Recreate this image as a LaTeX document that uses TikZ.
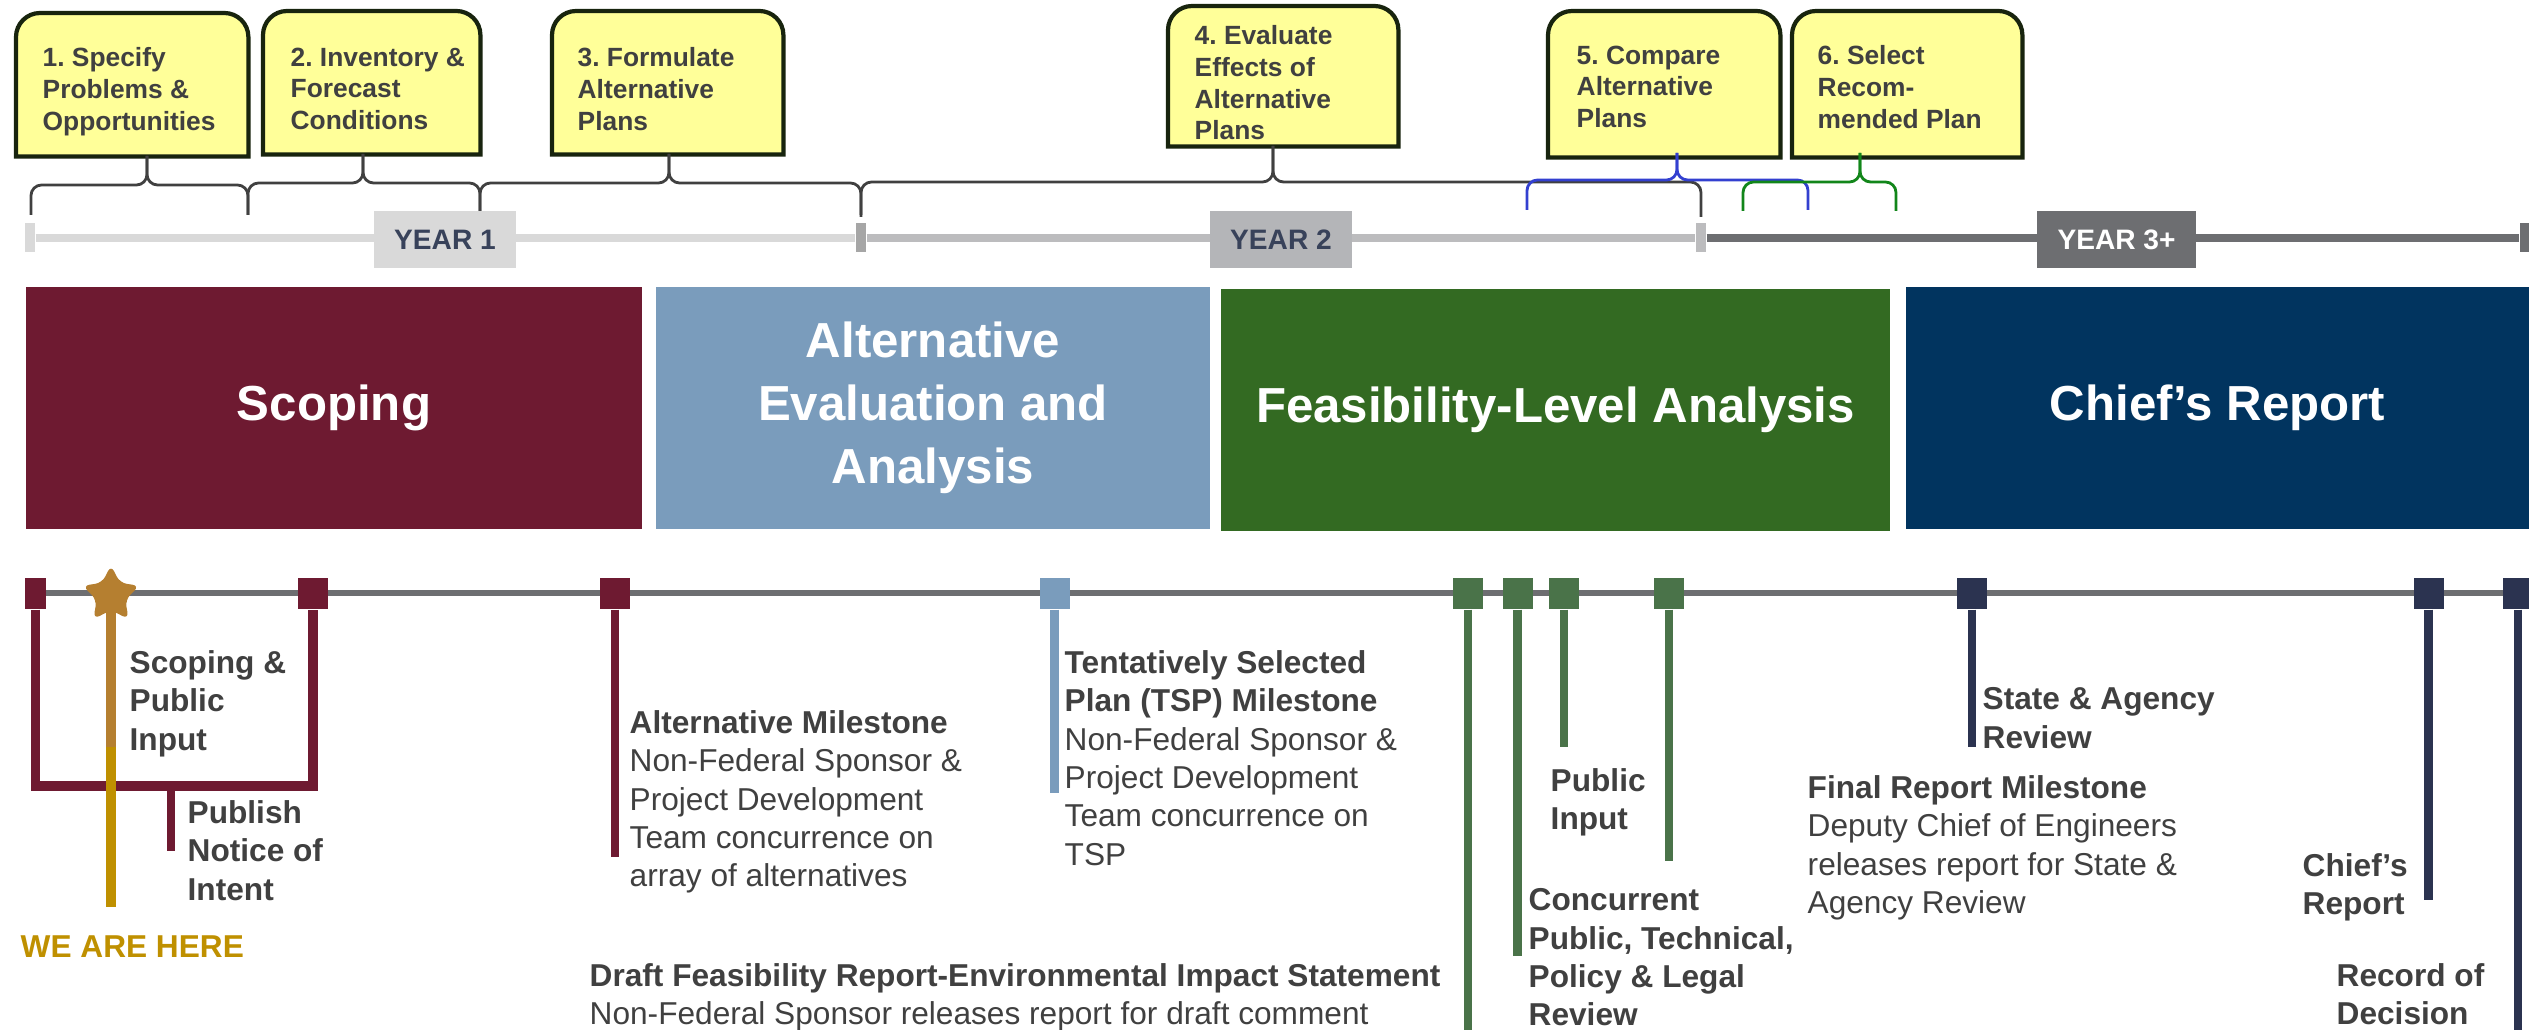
\documentclass[tikz,border=0pt]{standalone}
\usepackage{fontspec}
\setmainfont{Liberation Sans}
\frenchspacing
\usetikzlibrary{positioning,shapes.geometric}
\definecolor{fsyellow}{HTML}{FFFF99}
\definecolor{fsframe}{HTML}{18240E}
\definecolor{fsink}{HTML}{404040}
\definecolor{fsblue}{HTML}{3340D0}
\definecolor{fsleaf}{HTML}{12861A}
\definecolor{fsyearA}{HTML}{D9D9D9}
\definecolor{fsyearB}{HTML}{BCBCBE}
\definecolor{fsyearBtag}{HTML}{B4B5B8}
\definecolor{fsyearC}{HTML}{6D6E71}
\definecolor{fsyeartxt}{HTML}{38425A}
\definecolor{fsmaroon}{HTML}{6E1A31}
\definecolor{fssteel}{HTML}{7A9CBC}
\definecolor{fsforest}{HTML}{336A22}
\definecolor{fsnavy}{HTML}{01345F}
\definecolor{fsmoss}{HTML}{4A7349}
\definecolor{fsslate}{HTML}{2B3350}
\definecolor{fsochre}{HTML}{B57F30}
\definecolor{fsgold}{HTML}{BF9000}
\definecolor{fsrail}{HTML}{6D6E71}

\tikzset{
  stepcard/.style={anchor=north west,inner sep=0pt,minimum width=2.3cm,minimum height=1.42cm},
  stepline/.style={draw=fsframe,fill=fsyellow,line width=1.2pt},
  steptext/.style={anchor=north west,inner sep=0pt,align=left,text=fsink,
    font=\fontsize{7.5pt}{9pt}\selectfont\bfseries},
  bracepath/.style={line width=0.8pt,rounded corners=3pt},
  yearbar/.style={line width=2.3pt},
  yeartick/.style={minimum width=1mm,minimum height=2.9mm,inner sep=0pt},
  yearlbl/.style={minimum width=1.42cm,minimum height=5.7mm,inner sep=0pt,
    font=\fontsize{8pt}{9pt}\selectfont\bfseries},
  phasebar/.style={minimum height=2.42cm,inner sep=0pt,text=white,align=center,
    font=\fontsize{14pt}{18pt}\selectfont\bfseries},
  msquare/.style={fill=#1,minimum width=3mm,minimum height=3.1mm,inner sep=0pt},
  stemline/.style={draw=#1,line width=2.4pt},
  lbl/.style={anchor=north west,inner sep=0pt,align=left,text=fsink,
    font=\fontsize{9pt}{10.9pt}\selectfont},
  lblb/.style={lbl,font=\fontsize{9pt}{10.9pt}\selectfont\bfseries},
}

% yellow step card, rounded on top only
\newcommand{\stepframe}[1]{%
  \filldraw[stepline] (#1.south west) -- ([yshift=-2.4mm]#1.north west)
    arc[start angle=180,end angle=90,radius=2.4mm] -- ([xshift=-2.4mm]#1.north east)
    arc[start angle=90,end angle=0,radius=2.4mm] -- (#1.south east) -- cycle;}

\begin{document}
\begin{tikzpicture}[x=0.1mm,y=-0.1mm]
\useasboundingbox (0,0) rectangle (2529,1030);

% six planning steps
\node[stepcard,minimum width=2.31cm] (s1) at (16,13) {};
\node[stepcard,minimum width=2.16cm] (s2) at (263,11) {};
\node[stepcard] (s3) at (552,11) {};
\node[stepcard,minimum width=2.29cm,minimum height=1.39cm] (s4) at (1168,6) {};
\node[stepcard,minimum width=2.31cm,minimum height=1.45cm] (s5) at (1548,11) {};
\node[stepcard,minimum width=2.29cm,minimum height=1.45cm] (s6) at (1792,11) {};
\foreach \s in {s1,s2,s3,s4,s5,s6} {\stepframe{\s}}
\node[steptext,below right=3.4mm and 2.6mm of s1.north west] (s1t) {1. Specify\\Problems \&\\Opportunities};
\node[steptext,below right=3.6mm and 2.7mm of s2.north west] (s2t) {2. Inventory \&\\Forecast\\Conditions};
\node[steptext,below right=3.6mm and 2.5mm of s3.north west] (s3t) {3. Formulate\\Alternative\\Plans};
\node[steptext,below right=1.9mm and 2.6mm of s4.north west] (s4t) {4. Evaluate\\Effects of\\Alternative\\Plans};
\node[steptext,below right=3.4mm and 2.8mm of s5.north west] (s5t) {5. Compare\\Alternative\\Plans};
\node[steptext,below right=3.4mm and 2.5mm of s6.north west] (s6t) {6. Select\\Recom-\\mended Plan};

% braces from the steps down to the years
\coordinate (b0) at (31,215);
\coordinate (b1) at (248,215);
\coordinate (b2) at (480,215);
\coordinate (b3) at (861,215);
\coordinate (b4) at (1701,217);
\coordinate (u1) at (147,185);  \coordinate (t1) at (147,156);
\coordinate (u2) at (363,183);  \coordinate (t2) at (363,154);
\coordinate (u3) at (669,183);  \coordinate (t3) at (669,154);
\coordinate (u4) at (1273,182); \coordinate (t4) at (1273,146);
\draw[bracepath,fsink] (b0) |- (u1) -- (t1);
\draw[bracepath,fsink] (b1) |- (u1) -- (t1);
\draw[bracepath,fsink] (b1) |- (u2) -- (t2);
\draw[bracepath,fsink] (b2) |- (u2) -- (t2);
\draw[bracepath,fsink] (b2) |- (u3) -- (t3);
\draw[bracepath,fsink] (b3) |- (u3) -- (t3);
\draw[bracepath,fsink] (b3 |- b4) |- (u4) -- (t4);
\draw[bracepath,fsink] (b4) |- (u4) -- (t4);

\coordinate (c0) at (1527,210);
\coordinate (c1) at (1808,210);
\coordinate (u5) at (1677,180); \coordinate (t5) at (1677,153);
\draw[bracepath,fsblue] (c0) |- (u5) -- (t5);
\draw[bracepath,fsblue] (c1) |- (u5) -- (t5);
\coordinate (d0) at (1743,211);
\coordinate (d1) at (1896,211);
\coordinate (u6) at (1860,182); \coordinate (t6) at (1860,153);
\draw[bracepath,fsleaf] (d0) |- (u6) -- (t6);
\draw[bracepath,fsleaf] (d1) |- (u6) -- (t6);

% years
\node[yeartick,fill=fsyearA] (k0) at (30,238) {};
\node[yeartick,fill=black!35] (k1) at (861,238) {};
\node[yeartick,fill=fsyearB] (k2) at (1701,238) {};
\node[yeartick,fill=fsyearC] (k3) at (2525,238) {};
\draw[yearbar,fsyearA] (k0) -- (k1);
\draw[yearbar,fsyearB] (k1) -- (k2);
\draw[yearbar,fsyearC] (k2) -- (k3);
\node[yearlbl,fill=fsyearA,text=fsyeartxt] (yr1) at (445,239.5) {YEAR 1};
\node[yearlbl,fill=fsyearBtag,text=fsyeartxt] (yr2) at (1281,239.5) {YEAR 2};
\node[yearlbl,minimum width=1.59cm,fill=fsyearC,text=white] (yr3) at (2116.5,239.5) {YEAR 3+};

% phases
\node[phasebar,fill=fsmaroon,minimum width=6.16cm] (scoping) at (334,408) {Scoping};
\node[phasebar,fill=fssteel,minimum width=5.54cm] (alteval) at (933,408) {Alternative\\Evaluation and\\Analysis};
\node[phasebar,fill=fsforest,minimum width=6.69cm] (feas) at (1555.5,410) {Feasibility-Level Analysis};
\node[phasebar,fill=fsnavy,minimum width=6.23cm] (chief) at (2217.5,408) {Chief’s Report};

% milestones
\coordinate (rail0) at (46,593);
\coordinate (rail1) at (2529,593);
\draw[line width=1.8pt,fsrail] (rail0) -- (rail1);

\node[msquare=fsmaroon,minimum width=2.1mm] (m1) at (35.5,593.5) {};
\node[msquare=fsmaroon] (m2) at (313,593.5) {};
\node[msquare=fsmaroon] (m3) at (615,593.5) {};
\node[msquare=fssteel] (t1) at (1054.5,593.5) {};
\node[msquare=fsmoss] (g1) at (1468,593.5) {};
\node[msquare=fsmoss] (g2) at (1517.5,593.5) {};
\node[msquare=fsmoss] (g3) at (1564,593.5) {};
\node[msquare=fsmoss] (g4) at (1669,593.5) {};
\node[msquare=fsslate] (n1) at (1972,593.5) {};
\node[msquare=fsslate] (n2) at (2428.5,593.5) {};
\node[msquare=fsslate] (n3) at (2518,593.5) {};

\coordinate (scopebar) at (171,786);
\coordinate (noticeend) at (171,851);
\coordinate (m3end) at (615,857);
\coordinate (t1end) at (1054.5,793);
\coordinate (g1end) at (1468,1030);
\coordinate (g2end) at (1517.5,956);
\coordinate (g3end) at (1564,747);
\coordinate (g4end) at (1669,861);
\coordinate (n1end) at (1972,747);
\coordinate (n2end) at (2428.5,900);
\coordinate (n3end) at (2518,1030);

\draw[stemline=fsmaroon,line width=2.8pt] (m1.south) |- (scopebar) -| (m2.south);
\draw[stemline=fsmaroon] (scopebar) -- (noticeend);
\draw[stemline=fsmaroon] (m3.south) -- (m3end);
\draw[stemline=fssteel] (t1.south) -- (t1end);
\draw[stemline=fsmoss] (g1.south) -- (g1end);
\draw[stemline=fsmoss] (g2.south) -- (g2end);
\draw[stemline=fsmoss] (g3.south) -- (g3end);
\draw[stemline=fsmoss] (g4.south) -- (g4end);
\draw[stemline=fsslate] (n1.south) -- (n1end);
\draw[stemline=fsslate] (n2.south) -- (n2end);
\draw[stemline=fsslate] (n3.south) -- (n3end);

\coordinate (herestar) at (111,595);
\coordinate (herebend) at (111,747);
\coordinate (hereend) at (111,907);
\draw[stemline=fsochre,line width=2.6pt] (herestar) -- (herebend);
\draw[stemline=fsgold,line width=2.6pt] (herebend) -- (hereend);
\node[star,star points=5,star point ratio=2.0,fill=fsochre,minimum size=6mm,inner sep=0pt,
  rounded corners=2pt] (here) at (herestar) {};

\node[lblb] (scopeinput) at (129,650) {Scoping \&\\Public\\Input};
\node[lblb] (notice) at (187,800) {Publish\\Notice of\\Intent};
\node[lblb,text=fsgold] (weare) at (20,935) {WE ARE HERE};
\node[lbl] (altms) at (629,710) {\textbf{Alternative Milestone}\\Non-Federal Sponsor \&\\Project Development\\Team concurrence on\\array of alternatives};
\node[lbl] (tspms) at (1064,650) {\textbf{Tentatively Selected}\\\textbf{Plan (TSP) Milestone}\\Non-Federal Sponsor \&\\Project Development\\Team concurrence on\\TSP};
\node[lbl] (draft) at (589,963) {\textbf{Draft Feasibility Report-Environmental Impact Statement}\\Non-Federal Sponsor releases report for draft comment};
\node[lblb] (pubinput) at (1550,768) {Public\\Input};
\node[lblb] (concur) at (1528,888) {Concurrent\\Public, Technical,\\Policy \& Legal\\Review};
\node[lblb] (stagency) at (1982,687) {State \& Agency\\Review};
\node[lbl] (finalms) at (1807,775) {\textbf{Final Report Milestone}\\Deputy Chief of Engineers\\releases report for State \&\\Agency Review};
\node[lblb] (chiefrep) at (2302,853) {Chief’s\\Report};
\node[lblb] (rod) at (2336,963) {Record of\\Decision};
\end{tikzpicture}
\end{document}
